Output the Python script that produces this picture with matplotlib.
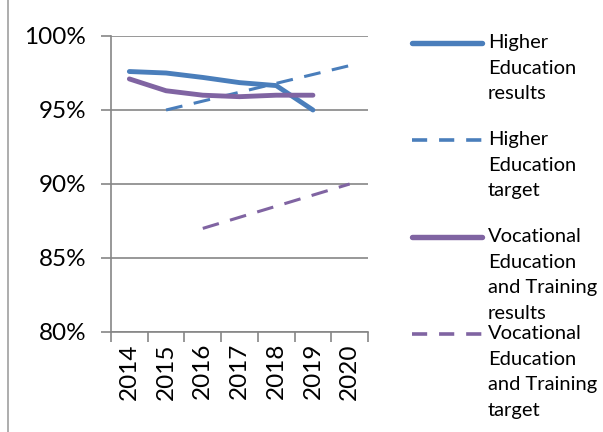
import matplotlib.pyplot as plt
from matplotlib.lines import Line2D
from matplotlib.ticker import FuncFormatter, FixedLocator

plt.rcParams['font.family'] = ['Lato', 'DejaVu Sans']

years = ['2014', '2015', '2016', '2017', '2018', '2019', '2020']
he_results = [97.6, 97.5, 97.2, 96.85, 96.65, 95.0, None]
he_target = [None, 95.0, 95.6, 96.2, 96.8, 97.4, 98.0]
vet_results = [97.1, 96.3, 96.0, 95.9, 96.0, 96.0, None]
vet_target = [None, None, 87.0, 87.75, 88.5, 89.25, 90.0]

labels = ['Higher\nEducation\nresults', 'Higher\nEducation\ntarget',
          'Vocational\nEducation\nand Training\nresults',
          'Vocational\nEducation\nand Training\ntarget']

blue = '#4a7ebb'
purple = '#8064a2'
grid_c = '#868686'

W, H = 603, 432
fig = plt.figure(figsize=(W / 100, H / 100), dpi=100)
ax = fig.add_axes([111 / W, 1 - 332 / H, (368 - 111) / W, (332 - 36) / H])

def pts(vals):
    xs = [i for i, v in enumerate(vals) if v is not None]
    ys = [v for v in vals if v is not None]
    return xs, ys

styles = [
    (he_results, blue, '-', 3.5),
    (he_target, blue, (0, (5.5, 3.8)), 2.2),
    (vet_results, purple, '-', 3.5),
    (vet_target, purple, (0, (5.5, 3.8)), 2.2),
]
for vals, c, ls, lw in styles:
    xs, ys = pts(vals)
    ax.plot(xs, ys, color=c, linestyle=ls, linewidth=lw,
            solid_capstyle='round', dash_capstyle='butt', zorder=3)

ax.set_xlim(-0.5, 6.5)
ax.set_ylim(80, 100)
ax.set_yticks([80, 85, 90, 95, 100])
ax.yaxis.set_major_formatter(FuncFormatter(lambda v, p: '%d%%' % v))
ax.set_xticks(range(len(years)))
ax.set_xticklabels(years, rotation=90)
ax.xaxis.set_minor_locator(FixedLocator([i - 0.5 for i in range(len(years) + 1)]))
ax.tick_params(axis='x', which='major', length=0, labelsize=17.5, pad=8)
ax.tick_params(axis='x', which='minor', length=7, color=grid_c, width=1.2)
ax.tick_params(axis='y', length=7, color=grid_c, width=1.2, labelsize=17.5, pad=11)
ax.grid(axis='y', color=grid_c, linewidth=1.2)
for s in ['top', 'right']:
    ax.spines[s].set_visible(False)
for s in ['left', 'bottom']:
    ax.spines[s].set_color(grid_c)
    ax.spines[s].set_linewidth(1.2)

# legend drawn by hand so each line sits at the first text line
entry_y = [43, 140, 237, 334]
for (vals, c, ls, lw), lab, yy in zip(styles, labels, entry_y):
    fy = 1 - yy / H
    if ls == '-':
        ls_leg, lw_leg = '-', lw + 0.4
    else:
        ls_leg, lw_leg = (0, (4.2, 3.3)), 2.6
    fig.add_artist(Line2D([412 / W, 482 / W], [fy, fy], color=c, linestyle=ls_leg,
                          linewidth=lw_leg, solid_capstyle='round',
                          dash_capstyle='butt'))
    fig.text(488 / W, 1 - (yy - 9) / H, lab, fontsize=14.5, va='top',
             ha='left', linespacing=1.62)

# chart area border on the left
fig.add_artist(Line2D([7.5 / W, 7.5 / W], [0, 1], color='#a0a0a0', linewidth=1.2))

fig.savefig('out.png', dpi=100)
